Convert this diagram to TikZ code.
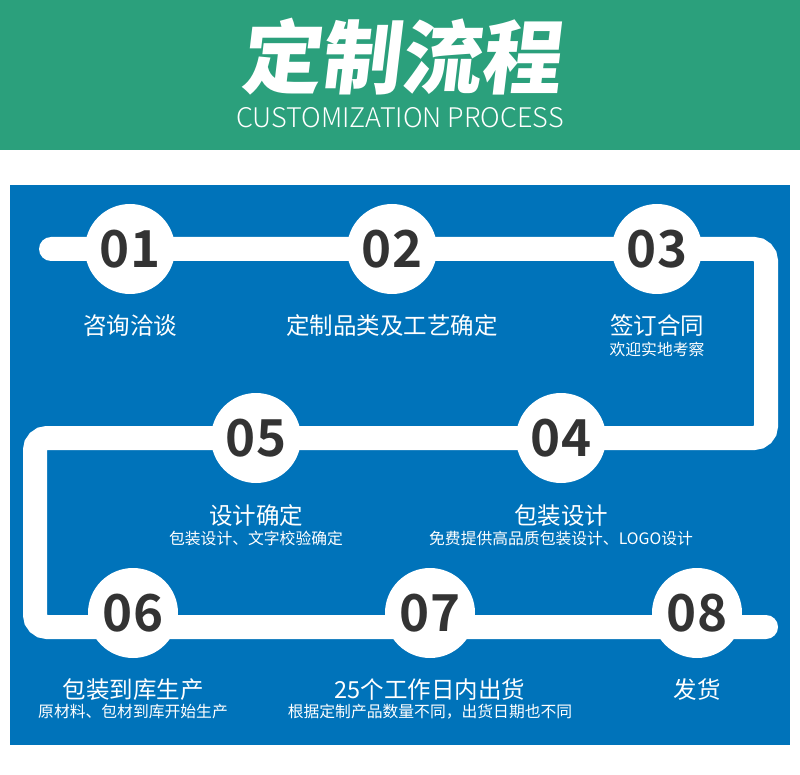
\documentclass[tikz,border=0pt]{standalone}
\usepackage{fontspec}
\setmainfont{Noto Sans CJK SC}
\newfontfamily\titlefont[FakeSlant=0.12]{Noto Sans CJK SC Black}
\newfontfamily\enfont{Noto Sans CJK SC Light}
\newfontfamily\numfont{Noto Sans CJK SC Bold}
\usetikzlibrary{positioning}

\definecolor{hdrgreen}{RGB}{43,160,124}
\definecolor{flowblue}{RGB}{0,115,186}
\definecolor{numgray}{RGB}{51,51,51}

\begin{document}
\begin{tikzpicture}[x=1pt, y=-1pt,
      stepnum/.style={circle, fill=white, minimum size=90pt, inner sep=0pt,
                      font=\numfont\fontsize{51}{51}\selectfont, text=numgray},
      steptitle/.style={text=white, inner sep=0pt, font=\fontsize{23.5}{24}\selectfont},
      stepsub/.style={text=white, inner sep=0pt, font=\fontsize{15.8}{16}\selectfont},
      track/.style={white, line width=24pt, rounded corners=12pt, line cap=round}]

    \useasboundingbox (0,0) rectangle (800,775);

    \def\ra{249}  % row heights
    \def\rb{438}
    \def\rc{627}

    % Header band
    \fill[hdrgreen] (0,0) rectangle (800,150);
    \node[text=white, font=\titlefont\fontsize{80}{80}\selectfont] (head) at (400,57) {定制流程};
    \node[text=white, font=\enfont\fontsize{27}{27}\selectfont] (headen) at (400,118) {CUSTOMIZATION PROCESS};

    % Blue panel
    \fill[flowblue] (10,185) rectangle (790,745);

    % Track corners
    \coordinate (start) at (51,\ra);
    \coordinate (ne)    at (766,\ra);
    \coordinate (se)    at (766,\rb);
    \coordinate (nw)    at (35,\rb);
    \coordinate (sw)    at (35,\rc);
    \coordinate (stop)  at (766,\rc);
    \draw[track] (start) -- (ne) -- (se) -- (nw) -- (sw) -- (stop);

    % Step circles
    \node[stepnum] (c01) at (130,\ra) {01};
    \node[stepnum] (c02) at (392,\ra) {02};
    \node[stepnum] (c03) at (657,\ra) {03};
    \node[stepnum] (c04) at (561,\rb) {04};
    \node[stepnum] (c05) at (256,\rb) {05};
    \node[stepnum] (c06) at (133,613) {06};
    \node[stepnum] (c07) at (430,613) {07};
    \node[stepnum] (c08) at (697,613) {08};

    % Step labels
    \node[steptitle] (t01) at (130,326) {咨询洽谈};
    \node[steptitle] (t02) at (392,326) {定制品类及工艺确定};
    \node[steptitle] (t03) at (657,326) {签订合同};
    \node[stepsub]   (s03) at (657,349) {欢迎实地考察};
    \node[steptitle] (t05) at (256,516) {设计确定};
    \node[stepsub]   (s05) at (256,538) {包装设计、文字校验确定};
    \node[steptitle] (t04) at (561,516) {包装设计};
    \node[stepsub]   (s04) at (561,538) {免费提供高品质包装设计、LOGO设计};
    \node[steptitle] (t06) at (133,690) {包装到库生产};
    \node[stepsub]   (s06) at (133,712) {原材料、包材到库开始生产};
    \node[steptitle] (t07) at (430,690) {25个工作日内出货};
    \node[stepsub]   (s07) at (430,712) {根据定制产品数量不同，出货日期也不同};
    \node[steptitle] (t08) at (697,690) {发货};

\end{tikzpicture}
\end{document}
